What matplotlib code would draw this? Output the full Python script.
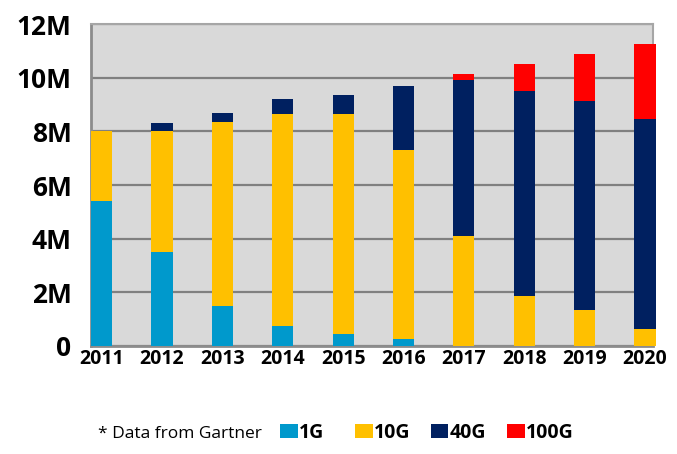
import numpy as np
import matplotlib
matplotlib.use('Agg')
import matplotlib.pyplot as plt
from matplotlib.patches import Patch

years = ['2011', '2012', '2013', '2014', '2015', '2016', '2017', '2018', '2019', '2020']
g1 = [5.4, 3.5, 1.5, 0.75, 0.45, 0.25, 0, 0, 0, 0]
g10 = [2.6, 4.5, 6.85, 7.9, 8.2, 7.05, 4.1, 1.85, 1.35, 0.65]
g40 = [0, 0.3, 0.35, 0.55, 0.7, 2.4, 5.8, 7.65, 7.8, 7.8]
g100 = [0, 0, 0, 0, 0, 0, 0.25, 1.0, 1.75, 2.8]
series = ['1G', '10G', '40G', '100G']
colors = ['#0099CC', '#FFC000', '#002060', '#FF0000']
yticks = [0, 2, 4, 6, 8, 10, 12]
ylabels = ['0', '2M', '4M', '6M', '8M', '10M', '12M']

fig = plt.figure(figsize=(6.77, 4.54), dpi=100, facecolor='white')
ax = fig.add_axes([0.1344, 0.2379, 0.83, 0.709])
ax.set_facecolor('#D9D9D9')

x = np.arange(len(years))
bottom = np.zeros(len(years))
for vals, c in zip([g1, g10, g40, g100], colors):
    vals = np.array(vals)
    ax.bar(x, vals, width=0.35, bottom=bottom, color=c, zorder=3, clip_on=False)
    bottom += vals

ax.set_xlim(-0.175, 9.13)
ax.set_ylim(0, 12)
ax.set_yticks(yticks)
ax.set_yticklabels(ylabels, fontsize=19, fontweight='bold', family='Open Sans')
ax.set_xticks(x)
ax.set_xticklabels(years, fontsize=14, fontweight='bold', family='Open Sans')
ax.tick_params(axis='y', length=0, pad=14)
ax.tick_params(axis='x', length=0, pad=2)
ax.grid(axis='y', color='#808080', lw=1.6, zorder=1)

for s in ['top', 'right']:
    ax.spines[s].set_color('#A6A6A6')
    ax.spines[s].set_linewidth(1.5)
for s in ['left', 'bottom']:
    ax.spines[s].set_color('#8C8C8C')
    ax.spines[s].set_linewidth(2)

fig.text(0.145, 0.035, '* Data from Gartner', fontsize=12.5, family='Open Sans',
         va='baseline')

# one legend per entry so the slots line up like the original
leg_x = [0.4136, 0.5244, 0.6366, 0.7489]
for name, c, lx in zip(series, colors, leg_x):
    leg = fig.legend([Patch(facecolor=c, edgecolor='none')], [name],
                     loc='center left', bbox_to_anchor=(lx, 0.046),
                     frameon=False, handlelength=0.9, handleheight=0.75,
                     handletextpad=0.05, borderpad=0, borderaxespad=0,
                     prop={'family': 'Open Sans', 'weight': 'bold', 'size': 14})

fig.savefig('out.png', dpi=100)
